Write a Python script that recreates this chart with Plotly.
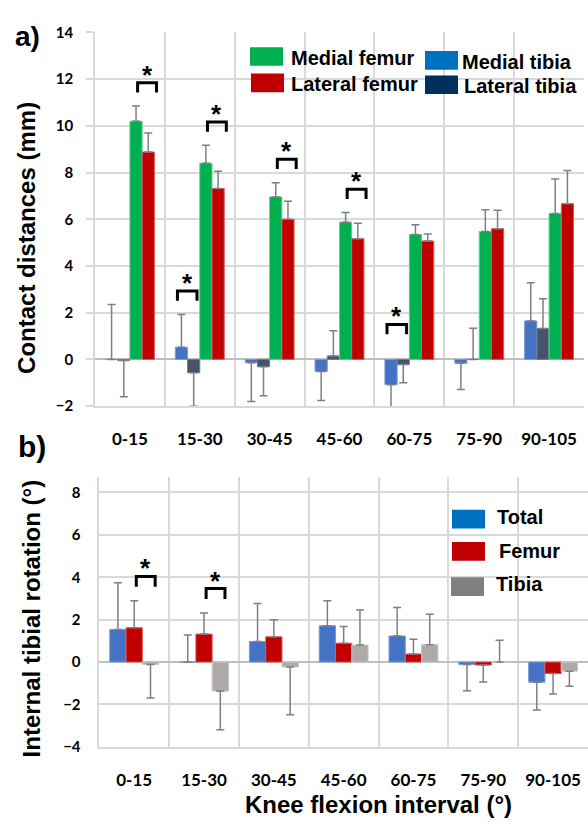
import plotly.graph_objects as go

W, H = 588, 824

# ---------------- data ----------------
intervals = ["0-15", "15-30", "30-45", "45-60", "60-75", "75-90", "90-105"]

# panel a: contact distances (mm), mean and SD
medial_tibia = [0.0, 0.52, -0.14, -0.52, -1.08, -0.16, 1.65]
medial_tibia_sd = [2.35, 1.41, 1.66, 1.24, 1.30, 1.13, 1.63]
lateral_tibia = [-0.05, -0.57, -0.31, 0.15, -0.22, 0.0, 1.33]
lateral_tibia_sd = [1.55, 1.43, 1.24, 1.08, 0.78, 1.34, 1.27]
medial_femur = [10.2, 8.4, 6.96, 5.88, 5.35, 5.48, 6.25]
medial_femur_sd = [0.65, 0.77, 0.61, 0.41, 0.42, 0.93, 1.48]
lateral_femur = [8.88, 7.32, 6.0, 5.17, 5.07, 5.6, 6.67]
lateral_femur_sd = [0.82, 0.74, 0.77, 0.66, 0.30, 0.79, 1.42]

# panel b: internal tibial rotation (deg), mean and SD
total_rot = [1.54, 0.0, 0.97, 1.71, 1.23, -0.12, -0.95]
total_rot_sd = [2.2, 1.28, 1.79, 1.18, 1.34, 1.23, 1.31]
femur_rot = [1.62, 1.32, 1.19, 0.89, 0.38, -0.14, -0.54]
femur_rot_sd = [1.27, 1.0, 0.81, 0.79, 0.70, 0.80, 0.97]
tibia_rot = [-0.11, -1.37, -0.23, 0.80, 0.82, 0.0, -0.43]
tibia_rot_sd = [1.58, 1.82, 2.26, 1.66, 1.43, 1.03, 0.71]

# significance (interval indices)
sig_a_femur = [0, 1, 2, 3]
sig_a_tibia = [1, 4]
sig_b_femur_tibia = [0, 1]

yticks_a = [-2, 0, 2, 4, 6, 8, 10, 12, 14]
yticks_b = [-4, -2, 0, 2, 4, 6, 8]

# ---------------- helpers ----------------
def px(x):
    return x / W

def py(y):
    return 1 - y / H

GRID = "#D9D9D9"
ERR = "#7F7F7F"


def err(vals, sds):
    plus = [s if v >= 0 else 0 for v, s in zip(vals, sds)]
    minus = [s if v < 0 else 0 for v, s in zip(vals, sds)]
    return dict(type="data", symmetric=False, array=plus, arrayminus=minus,
                color=ERR, thickness=1.5, width=4)


def upper(vals, sds):
    return [v + s if v >= 0 else 0 for v, s in zip(vals, sds)]


fig = go.Figure()

series_a = [
    ("Medial tibia", medial_tibia, medial_tibia_sd, "#4472C4", "#7C9BD6"),
    ("Lateral tibia", lateral_tibia, lateral_tibia_sd, "#44546A", "#6E7D92"),
    ("Medial femur", medial_femur, medial_femur_sd, "#00B050", "#5FD08F"),
    ("Lateral femur", lateral_femur, lateral_femur_sd, "#C00000", "#DA5A5A"),
]
for name, v, s, c, lc in series_a:
    fig.add_trace(go.Bar(x=intervals, y=v, name=name, marker=dict(color=c, line=dict(color=lc, width=1)),
                         error_y=err(v, s), xaxis="x", yaxis="y", showlegend=False, offsetgroup=name))

series_b = [
    ("Total", total_rot, total_rot_sd, "#4472C4", "#7C9BD6"),
    ("Femur", femur_rot, femur_rot_sd, "#C00000", "#DA5A5A"),
    ("Tibia", tibia_rot, tibia_rot_sd, "#AEAAAA", "#C8C5C5"),
]
for name, v, s, c, lc in series_b:
    fig.add_trace(go.Bar(x=intervals, y=v, name=name, marker=dict(color=c, line=dict(color=lc, width=1)),
                         error_y=err(v, s), xaxis="x2", yaxis="y2", showlegend=False, offsetgroup=name))

tickfont_x = dict(family="Lato", size=17, color="black", weight="bold")
tickfont_y = dict(family="Lato", size=15, color="black", weight="bold")

common_x = dict(type="category", tickson="boundaries", showgrid=True, gridcolor=GRID, gridwidth=1.5,
                ticks="", tickfont=tickfont_x, ticklabelstandoff=17, showline=True, linecolor=GRID,
                linewidth=1.5, mirror=False, zeroline=False, fixedrange=True,
                range=[-0.5, len(intervals) - 0.5])

fig.update_layout(
    width=W, height=H,
    margin=dict(l=0, r=0, t=0, b=0),
    paper_bgcolor="white", plot_bgcolor="white",
    barmode="group", bargap=0.3, bargroupgap=0,
    showlegend=False,
    xaxis=dict(domain=[px(95), px(584)], anchor="y", **common_x),
    yaxis=dict(domain=[py(405), py(23)], anchor="x", range=[-2, 14], tickvals=yticks_a,
               showgrid=True, gridcolor=GRID, gridwidth=1.5, zeroline=True, zerolinecolor="#BFBFBF",
               zerolinewidth=1.5, ticks="outside", ticklen=7, tickcolor=GRID, tickwidth=1.5,
               tickfont=tickfont_y, ticklabelstandoff=10, showline=True, linecolor=GRID, linewidth=1.5),
    xaxis2=dict(domain=[px(99.3), 1.0], anchor="y2", **common_x),
    yaxis2=dict(domain=[py(753.3), py(477)], anchor="x2", range=[-4, 8.75], tickvals=yticks_b,
                showgrid=True, gridcolor=GRID, gridwidth=1.5, zeroline=True, zerolinecolor="#BFBFBF",
                zerolinewidth=1.5, ticks="", tickfont=tickfont_y, ticklabelstandoff=14,
                showline=True, linecolor=GRID, linewidth=1.5),
    font=dict(family="Liberation Sans", color="black"),
)

shapes = []
annos = []


def bracket(xref, yref, i, x0, x1, base, gap, leg):
    top = max(base, 0.5) + gap
    shapes.append(dict(type="path", xref=xref, yref=yref,
                       path=f"M {i + x0},{top - leg} L {i + x0},{top} L {i + x1},{top} L {i + x1},{top - leg}",
                       line=dict(color="black", width=3)))
    annos.append(dict(x=i + (x0 + x1) / 2, y=top, xref=xref, yref=yref, text="*", showarrow=False,
                      yanchor="bottom", yshift=-9,
                      font=dict(family="Liberation Sans", size=26, color="black", weight="bold")))


up_mf = upper(medial_femur, medial_femur_sd)
up_lf = upper(lateral_femur, lateral_femur_sd)
up_mt = upper(medial_tibia, medial_tibia_sd)
up_lt = upper(lateral_tibia, lateral_tibia_sd)
for i in sig_a_femur:
    bracket("x", "y", i, 0.11, 0.38, max(up_mf[i], up_lf[i]), 1.0, 0.42)
for i in sig_a_tibia:
    bracket("x", "y", i, -0.32, -0.04, max(up_mt[i], up_lt[i]), 1.0, 0.42)
up_f = upper(femur_rot, femur_rot_sd)
up_t = upper(tibia_rot, tibia_rot_sd)
for i in sig_b_femur_tibia:
    bracket("x2", "y2", i, 0.03, 0.30, max(up_f[i], up_t[i]), 1.15, 0.49)

# custom legends
legend_a = [
    ("Medial femur", "#00B050", 250, 38, 289, 49),
    ("Lateral femur", "#C00000", 251, 65, 289, 76),
    ("Medial tibia", "#0070C0", 425, 42, 460, 53),
    ("Lateral tibia", "#00305E", 425, 67, 462, 78),
]
legend_b = [
    ("Total", "#0070C0", 452, 511, 495, 518),
    ("Femur", "#C00000", 452, 544, 497, 553),
    ("Tibia", "#808080", 451, 580, 494, 587),
]
for text, c, sx, sy, tx, ty in legend_a + legend_b:
    shapes.append(dict(type="rect", xref="paper", yref="paper", x0=px(sx), x1=px(sx + 33),
                       y0=py(sy + 19), y1=py(sy), fillcolor=c, line=dict(width=0)))
    annos.append(dict(x=px(tx), y=py(ty), xref="paper", yref="paper", text=text, showarrow=False,
                      xanchor="left", yanchor="middle",
                      font=dict(family="Liberation Sans", size=20, color="black", weight="bold")))

title_font = dict(family="Liberation Sans", size=24, color="black", weight="bold")
annos += [
    dict(x=px(27), y=py(233), xref="paper", yref="paper", text="Contact distances (mm)", textangle=-90,
         showarrow=False, xanchor="center", yanchor="middle", font=title_font),
    dict(x=px(31), y=py(622), xref="paper", yref="paper", text="Internal tibial rotation (°)", textangle=-90,
         showarrow=False, xanchor="center", yanchor="middle", font=title_font),
    dict(x=px(378), y=py(812), xref="paper", yref="paper", text="Knee flexion interval (°)",
         showarrow=False, xanchor="center", yanchor="middle", font=title_font),
    dict(x=px(27), y=py(27), xref="paper", yref="paper", text="a)", showarrow=False,
         xanchor="center", yanchor="middle",
         font=dict(family="Liberation Sans", size=28, color="black", weight="bold")),
    dict(x=px(32), y=py(446), xref="paper", yref="paper", text="b)", showarrow=False,
         xanchor="center", yanchor="middle",
         font=dict(family="Liberation Sans", size=30, color="black", weight="bold")),
]

fig.update_layout(shapes=shapes, annotations=annos)
fig.write_html("out.html", config={"displayModeBar": False},
               post_script="document.body.style.margin='0';document.body.style.padding='0';"
                           "document.body.style.overflow='hidden';")
